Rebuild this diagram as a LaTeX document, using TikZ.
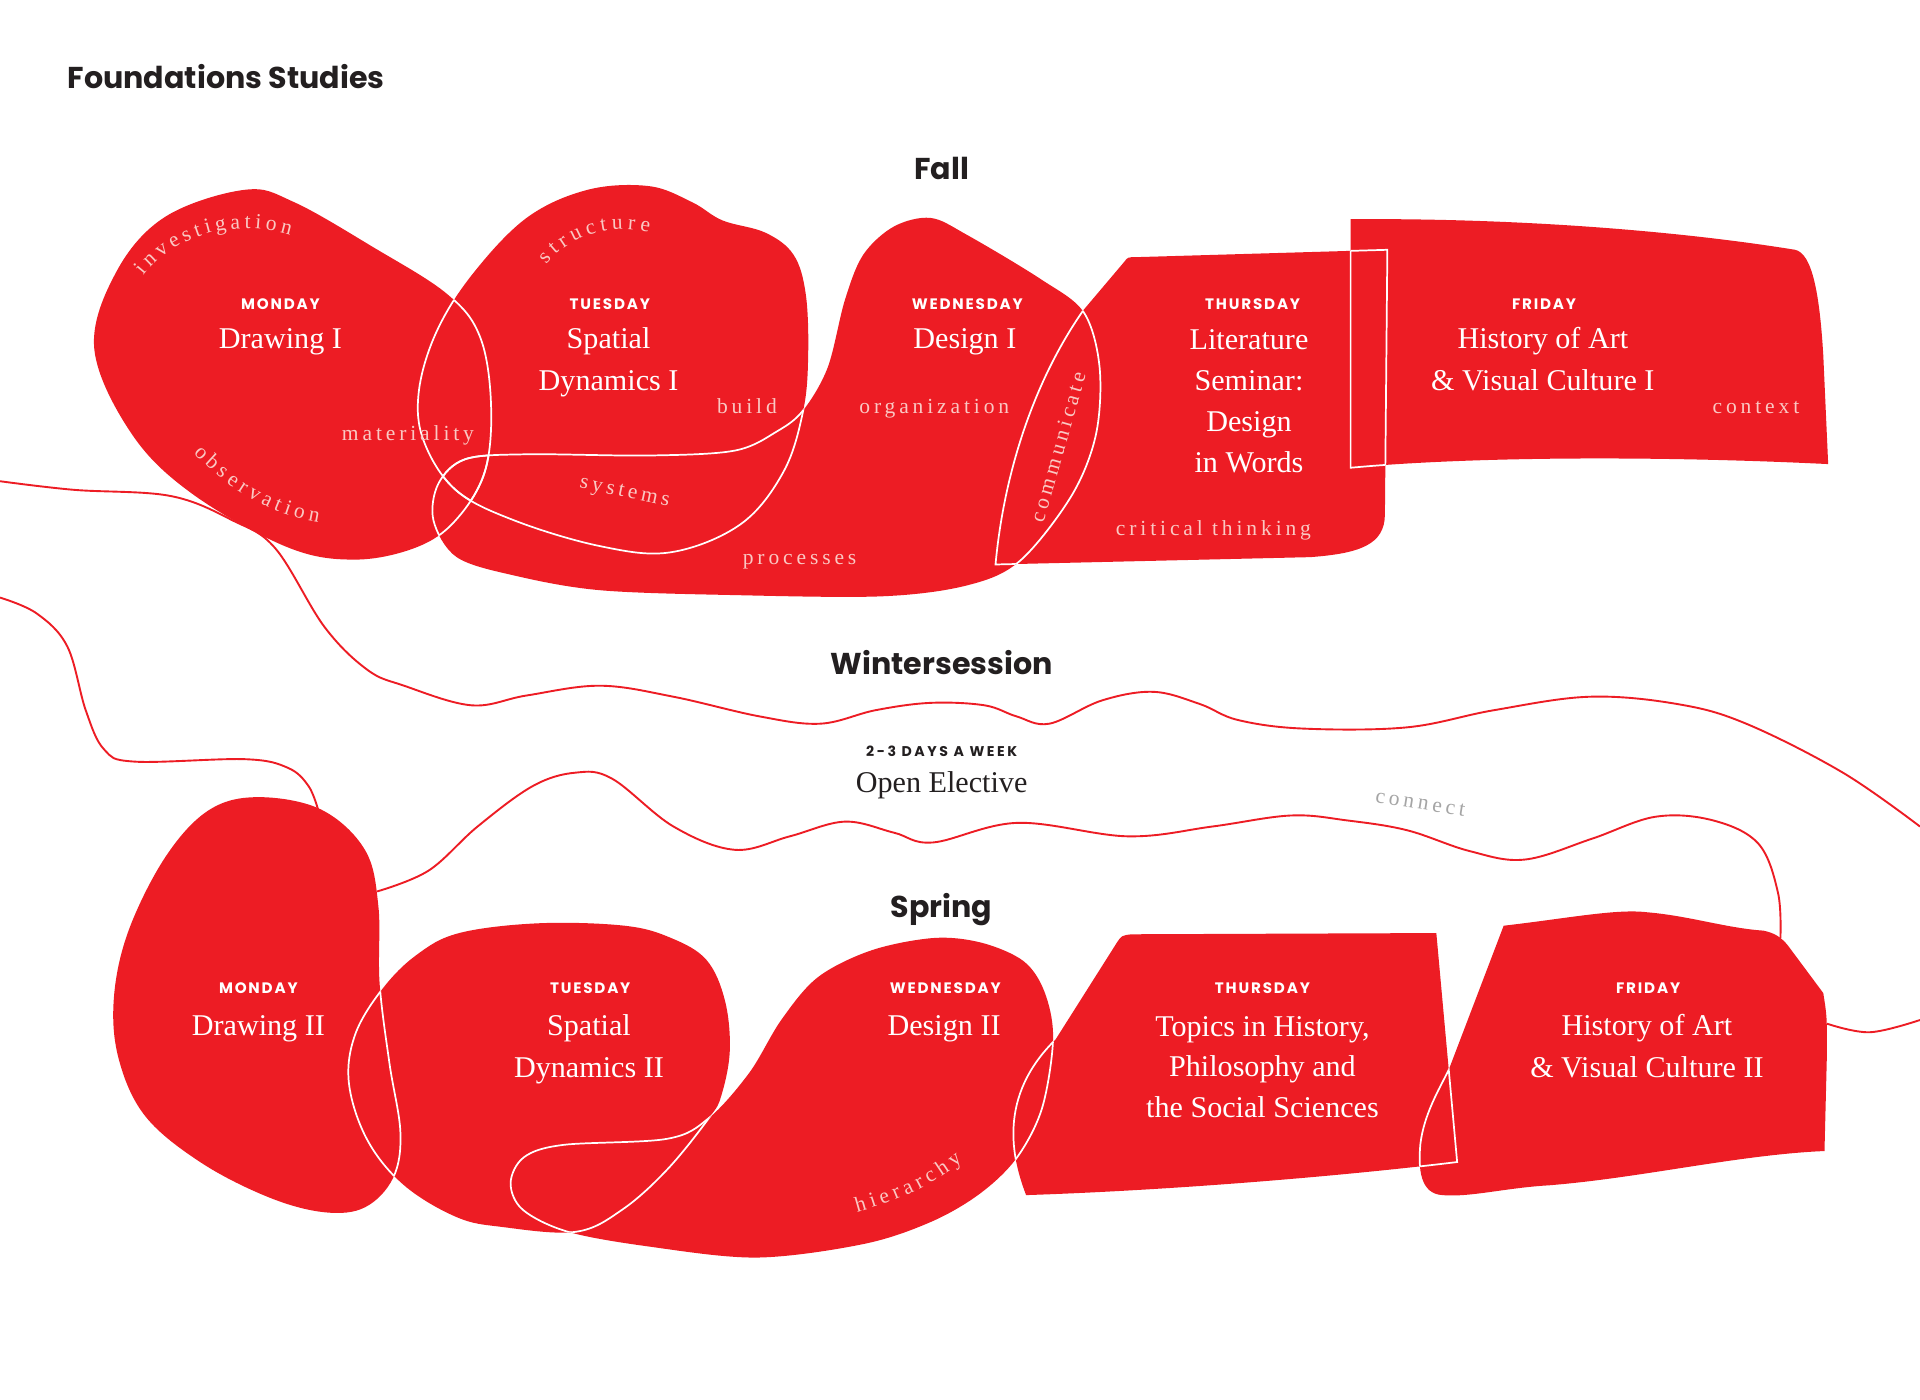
\documentclass[tikz,border=0pt]{standalone}
\usepackage{fontspec}
\setmainfont{Liberation Serif}
\newfontfamily\headfont{Poppins}
\newfontfamily\dayfont{Poppins}[LetterSpace=12]
\newfontfamily\tagfont{Poppins}[LetterSpace=18]
\newfontfamily\wordfont{Liberation Serif}[LetterSpace=18]
\newfontfamily\arcfont{Liberation Serif}
\usepackage{xcolor}
\usetikzlibrary{decorations.text}

\definecolor{brandred}{RGB}{237,28,36}
\definecolor{wordpink}{RGB}{250,200,195}
\definecolor{ink}{RGB}{35,31,32}
\definecolor{mist}{RGB}{165,165,165}

% Fall shapes
\newcommand\monFall{plot[smooth cycle, tension=0.6] coordinates {(77,285) (95,222) (135,177) (200,155) (240,165) (305,202) (365,240) (392,275) (401,330) (396,385) (372,425) (340,447) (290,457) (235,447) (158,404) (108,355)}}
\newcommand\tueFall{plot[smooth cycle, tension=0.6] coordinates {(342,320) (356,272) (385,225) (430,178) (480,155) (530,152) (565,165) (590,180) (625,190) (648,208) (658,240) (660,290) (656,335) (640,385) (605,428) (548,451) (490,446) (420,425) (372,400) (346,360)}}
\newcommand\wedFall{plot[smooth cycle, tension=0.55] coordinates {(656,335) (676,300) (690,245) (705,208) (730,185) (760,178) (790,192) (850,228) (885,255) (898,300) (895,355) (875,405) (833,458) (790,478) (720,487) (600,486) (490,482) (420,470) (373,455) (354,425) (358,395) (380,375) (430,371) (530,372) (600,368) (635,352)}}
\newcommand\thuFall{(885,253) -- (918,214) .. controls (921,210) .. (928,210) -- (1133,204) -- (1131,420) .. controls (1131,445) and (1110,452) .. (1070,455) -- (813,461) .. controls (820,385) and (845,310) .. (885,253) -- cycle}
\newcommand\friFall{(1103,179) .. controls (1250,178) and (1380,190) .. (1466,204) .. controls (1480,207) and (1486,240) .. (1489,290) -- (1493,379) .. controls (1350,372) and (1200,373) .. (1103,382) -- cycle}

% Spring shapes
\newcommand\monSpring{plot[smooth cycle, tension=0.6] coordinates {(210,651) (262,661) (298,694) (309,740) (310,803) (318,868) (327,925) (321,962) (298,986) (265,990) (220,978) (165,950) (119,912) (97,865) (93,815) (105,760) (135,700) (170,662)}}
\newcommand\tueSpring{plot[smooth cycle, tension=0.6] coordinates {(312,808) (340,780) (375,762) (440,754) (510,756) (548,766) (577,784) (592,817) (596,858) (589,895) (579,913) (545,955) (508,988) (470,1006) (410,1002) (373,994) (330,968) (300,931) (285,885) (290,845)}}
\newcommand\wedSpring{plot[smooth cycle, tension=0.55] coordinates {(579,913) (612,876) (638,833) (668,798) (712,776) (763,766) (802,770) (836,785) (853,810) (860,848) (851,905) (830,946) (800,975) (760,998) (705,1016) (618,1027) (530,1018) (464,1006) (427,988) (417,966) (428,945) (460,935) (545,930)}}
\newcommand\thuSpring{(862,849) -- (912,770) .. controls (916,764) .. (924,763) -- (1173,762) -- (1190,949) .. controls (1100,960) and (960,972) .. (838,976) .. controls (826,945) and (815,895) .. (862,849) -- cycle}
\newcommand\friSpring{(1228,756) .. controls (1280,750) and (1320,742) .. (1345,745) .. controls (1380,748) and (1410,758) .. (1440,760) .. controls (1450,762) and (1455,766) .. (1460,772) -- (1489,811) .. controls (1492,830) .. (1492,860) -- (1490,940) .. controls (1420,943) and (1340,962) .. (1265,968) .. controls (1230,970) and (1200,978) .. (1178,976) .. controls (1160,975) and (1158,955) .. (1160,934) .. controls (1163,910) and (1175,890) .. (1183,874) -- cycle}

% white seams where two shapes overlap
\newcommand\seams[2]{%
  \begin{scope}\clip #2; \draw[seam] #1;\end{scope}%
  \begin{scope}\clip #1; \draw[seam] #2;\end{scope}}

\begin{document}
\begin{tikzpicture}[
    x=0.025cm, y=-0.025cm,
    blob/.style={fill=brandred, draw=none},
    seam/.style={draw=white, line width=1pt},
    thread/.style={draw=brandred, line width=1.1pt},
    season/.style={font=\headfont\bfseries\fontsize{17.5}{20}\selectfont, text=ink, anchor=base, inner sep=0},
    day/.style={font=\dayfont\bfseries\fontsize{8.8}{10}\selectfont, text=white, anchor=base, inner sep=0},
    course/.style={font=\fontsize{17.5}{24.2}\selectfont, text=white, align=center, anchor=base, inner sep=0},
    keyword/.style={font=\wordfont\fontsize{12.5}{14}\selectfont, text=wordpink, anchor=base, inner sep=0},
    arcword/.style={decorate, decoration={text along path, text align=fit to path, text color=wordpink,
        text={|\arcfont\fontsize{12.5}{14}\selectfont|#1}}}
]
    \useasboundingbox (0,0) rectangle (1568,1143);
    \fill[white] (0,0) rectangle (1568,1143);

    % Threads
    \draw[thread] plot[smooth, tension=0.6] coordinates {(0,393) (60,400) (139,405) (190,425) (225,448) (265,512) (300,547) (330,560) (385,576) (430,568) (490,560) (550,569) (620,585) (670,591) (715,580) (760,574) (804,576) (830,585) (857,591) (900,572) (942,565) (980,575) (1011,588) (1064,595) (1149,594) (1220,580) (1298,569) (1370,575) (1426,591) (1505,631) (1568,675)};
    \draw[thread] plot[smooth, tension=0.6] coordinates {(0,488) (30,501) (55,528) (70,580) (85,612) (110,622) (200,620) (235,627) (252,642) (260,662)};
    \draw[thread] plot[smooth, tension=0.6] coordinates {(308,728) (350,711) (390,675) (435,642) (470,631) (500,636) (550,675) (600,694) (645,683) (690,671) (730,680) (762,688) (831,672) (921,683) (990,675) (1054,666) (1100,670) (1149,678) (1200,695) (1245,702) (1300,685) (1352,667) (1399,670) (1436,689) (1452,729) (1454,766)};
    \draw[thread] plot[smooth, tension=0.6] coordinates {(1492,836) (1527,843) (1568,833)};

    % Shapes
    \fill[blob] \monFall;
    \fill[blob] \tueFall;
    \fill[blob] \wedFall;
    \fill[blob] \thuFall;
    \fill[blob] \friFall;
    \fill[blob] \monSpring;
    \fill[blob] \tueSpring;
    \fill[blob] \wedSpring;
    \fill[blob] \thuSpring;
    \fill[blob] \friSpring;

    % Seams
    \seams{\monFall}{\tueFall}
    \seams{\monFall}{\wedFall}
    \seams{\tueFall}{\wedFall}
    \seams{\wedFall}{\thuFall}
    \seams{\thuFall}{\friFall}
    \seams{\monSpring}{\tueSpring}
    \seams{\tueSpring}{\wedSpring}
    \seams{\wedSpring}{\thuSpring}
    \seams{\thuSpring}{\friSpring}

    % Headings
    \node[season, anchor=base west] (title) at (55,72) {Foundations Studies};
    \node[season] (fall) at (769,147) {Fall};
    \node[season] (winter) at (769,551) {Wintersession};
    \node[season] (spring) at (769,749) {Spring};
    \node[day, font=\tagfont\bfseries\fontsize{8.2}{9}\selectfont, text=ink] (freq) at (769,618) {2-3 DAYS A WEEK};
    \node[course, text=ink] (elective) at (769,647) {Open Elective};

    % Fall nodes (course anchors sit on the last line)
    \node[day] (monday1) at (229,252.5) {MONDAY};
    \node[course] (drawing1) at (229,285) {Drawing I};
    \node[day] (tuesday1) at (498,252.5) {TUESDAY};
    \node[course] (spatial1) at (497,319) {Spatial\\Dynamics I};
    \node[day] (wednesday1) at (790,252.5) {WEDNESDAY};
    \node[course] (design1) at (788,285) {Design I};
    \node[day] (thursday1) at (1023,252.5) {THURSDAY};
    \node[course, font=\fontsize{17.5}{23.9}\selectfont] (literature) at (1020,386) {Literature\\Seminar:\\Design\\in Words};
    \node[day] (friday1) at (1261,252.5) {FRIDAY};
    \node[course] (history1) at (1260,319) {History of Art\\\& Visual Culture I};

    % Spring nodes
    \node[day] (monday2) at (211,811.5) {MONDAY};
    \node[course] (drawing2) at (211,846) {Drawing II};
    \node[day] (tuesday2) at (482,811.5) {TUESDAY};
    \node[course] (spatial2) at (481,880) {Spatial\\Dynamics II};
    \node[day] (wednesday2) at (772,811.5) {WEDNESDAY};
    \node[course] (design2) at (771,846) {Design II};
    \node[day] (thursday2) at (1031,811.5) {THURSDAY};
    \node[course, font=\fontsize{17.5}{23.8}\selectfont] (topics) at (1031,913) {Topics in History,\\Philosophy and\\the Social Sciences};
    \node[day] (friday2) at (1346,811.5) {FRIDAY};
    \node[course] (history2) at (1345,880) {History of Art\\\& Visual Culture II};

    % Keywords
    \node[keyword, anchor=base west] (materiality) at (279,360) {materiality};
    \node[keyword] (build) at (610,338) {build};
    \node[keyword] (organization) at (763,338) {organization};
    \node[keyword] (processes) at (653,461) {processes};
    \node[keyword] (critical) at (991,437) {critical thinking};
    \node[keyword] (context) at (1434,338) {context};
    \node[keyword, anchor=center, rotate=-12] (systems) at (510,403) {systems};
    \node[keyword, anchor=center, rotate=74] (communicate) at (864,365) {communicate};
    \node[keyword, anchor=center, rotate=-9, text=mist] (connect) at (1160,656) {connect};
    \path[arcword=investigation] (117,225) .. controls (143,192) and (190,178) .. (237,192);
    \path[arcword=structure] (446,216) .. controls (465,193) and (495,182) .. (530,190);
    \path[arcword=observation] (158,370) .. controls (185,398) and (218,420) .. (260,427);
    \path[arcword=hierarchy] (700,990) .. controls (730,982) and (762,968) .. (786,948);

\end{tikzpicture}
\end{document}
